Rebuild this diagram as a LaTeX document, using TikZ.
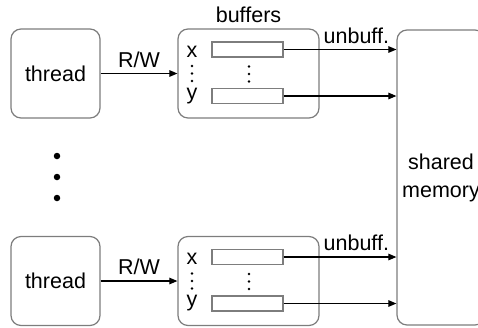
\documentclass[tikz,border=0pt]{standalone}
\usepackage{fontspec}
\setmainfont{Liberation Sans}
\usetikzlibrary{arrows.meta}
\definecolor{boxgray}{RGB}{125,125,125}
\begin{document}
\begin{tikzpicture}[x=1pt,y=-1pt,
  lbl/.style={font=\fontsize{21.5}{28}\selectfont, inner sep=0pt},
  box/.style={draw=boxgray, line width=1.2pt, rounded corners=10pt, lbl},
  buf/.style={draw=boxgray, line width=1.2pt, fill=white, minimum width=71pt, minimum height=15pt, inner sep=0pt},
  arr/.style={-{Triangle[length=8pt,width=6.5pt]}, line width=1.1pt},
  bigdot/.style={circle, fill=black, inner sep=0pt, minimum size=6.5pt},
  smalldot/.style={circle, fill=black, inner sep=0pt, minimum size=2.6pt},
]
\useasboundingbox (0,0) rectangle (478,327);
\clip (0,0) rectangle (478,327);

% shared memory
\node[box, minimum width=88pt, minimum height=295pt, align=center] (m) at (441,177.5) {shared\\memory};

\foreach \i/\dy in {1/0, 2/207.5} {
  \node[box, minimum width=89pt, minimum height=89pt] (t\i) at (55.5,73.5+\dy) {thread};
  \node[box, minimum width=141pt, minimum height=89pt] (b\i) at (248.5,73.5+\dy) {};
  \node[buf] (x\i) at (247.5,49.5+\dy) {};
  \node[buf] (y\i) at (247.5,96+\dy) {};
  \node[lbl, anchor=base] (lx\i) at (192,57+\dy) {x};
  \node[lbl, anchor=base] (ly\i) at (192,99+\dy) {y};
  \node[smalldot] (da\i) at (192,66+\dy) {};
  \node[smalldot] (db\i) at (192,73.5+\dy) {};
  \node[smalldot] (dc\i) at (192,81+\dy) {};
  \node[smalldot] (de\i) at (249,66.5+\dy) {};
  \node[smalldot] (df\i) at (249,74+\dy) {};
  \node[smalldot] (dg\i) at (249,81.5+\dy) {};
  \draw[arr] (t\i.east) -- (b\i.west) node[lbl, midway, anchor=base, yshift=6.5pt] {R/W};
  \draw[arr] (x\i.east) -- (x\i.east -| m.west) node[lbl, pos=0.645, anchor=base, yshift=6.5pt] {unbuff.};
  \draw[arr] (y\i.east) -- (y\i.east -| m.west);
}
\node[lbl, anchor=base] (bl) at ([yshift=6pt]b1.north) {buffers};

\node[bigdot] (e1) at (57,156) {};
\node[bigdot] (e2) at (57,177) {};
\node[bigdot] (e3) at (57,198) {};
\end{tikzpicture}
\end{document}
